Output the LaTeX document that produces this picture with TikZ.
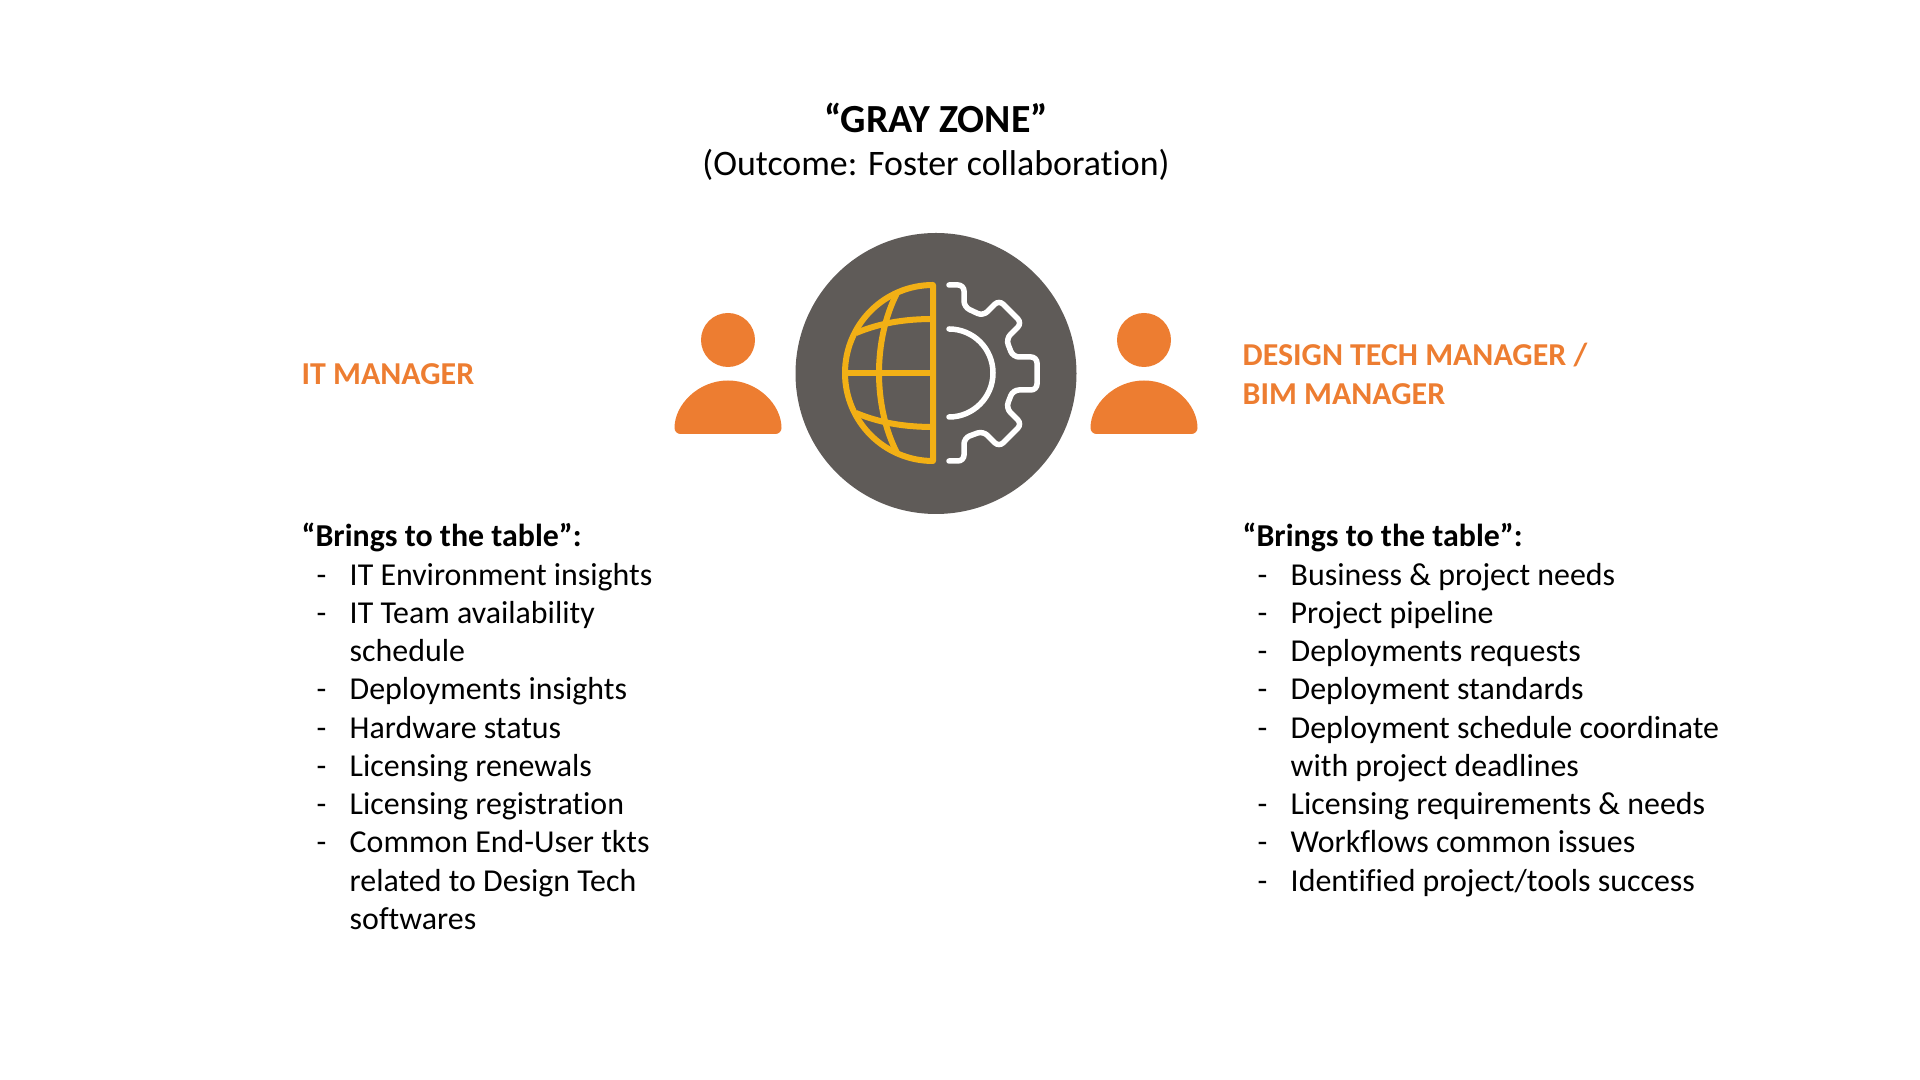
\documentclass[tikz,border=0pt]{standalone}
\usepackage{fontspec}
\setmainfont{Carlito}[Ligatures=CommonOff]
\usepackage{array}
\usetikzlibrary{positioning}
\definecolor{orangeman}{HTML}{ED7D31}
\definecolor{hubgray}{HTML}{5F5B58}
\definecolor{globegold}{HTML}{F2B015}
\tikzset{
  bodytext/.style={inner sep=0pt, align=left, font=\fontsize{9.07}{10.88}\selectfont},
  headtext/.style={bodytext, font=\fontsize{9.07}{10.88}\selectfont\bfseries},
  roletext/.style={headtext, text=orangeman},
  globeline/.style={draw=globegold, line width=0.6mm, line join=round},
  gearline/.style={draw=white, line width=0.55mm, line cap=round}
}
\begin{document}
\begin{tikzpicture}[x=0.01cm, y=-0.01cm, >=stealth]
  \useasboundingbox (0,0) rectangle (1920,1080);

  %--- Title
  \node[inner sep=0pt, font=\fontsize{11.34}{13.6}\selectfont\bfseries] (title) at (936,118) {“GRAY ZONE”};
  \node[inner sep=0pt, font=\fontsize{10.2}{12.24}\selectfont] (outcome) at (936,165) {(Outcome: Foster collaboration)};

  %--- Center circle
  \fill[hubgray] (936,373.5) circle[radius=140.5];

  %--- Globe half
  \draw[globeline] (933,285) arc[start angle=270, end angle=90, radius=88] -- cycle;
  \draw[globeline] (845,373) -- (933,373);
  \draw[globeline] (897,293) .. controls (873,340) and (873,406) .. (897,453);
  \draw[globeline] (856,333) .. controls (880,323) and (905,319) .. (933,319);
  \draw[globeline] (856,413) .. controls (880,423) and (905,427) .. (933,427);

  %--- Gear half
  \draw[gearline, rounded corners=0.6mm] (949,285) -- (964,285) -- (964,307) -- (983,316)
    -- (999,300) -- (1022,323) -- (1006,339) -- (1013,357) -- (1037,357) -- (1037,390)
    -- (1013,390) -- (1006,408) -- (1022,424) -- (999,447) -- (983,431) -- (964,438)
    -- (964,461) -- (949,461);
  \draw[gearline] (949,329) arc[start angle=-90, end angle=90, radius=44];

  %--- Both managers
  \foreach \px in {728,1144} {
    \fill[orangeman] (\px,340) circle[radius=27];
    \fill[orangeman, rounded corners=0.6mm] (\px-53.5,434) arc[start angle=180, end angle=360, radius=53.5] -- cycle;
  }

  %--- Left column
  \node[roletext, anchor=west] (itman) at (301,374) {IT MANAGER};
  \node[headtext, anchor=base west] (leftbrings) at (301,546.5) {“Brings to the table”:};
  \node[bodytext, below right=0.05cm and 0.15cm of leftbrings.south west] (leftlist) {%
    \begin{tabular}{@{}p{0.33cm}@{}l@{}}
      - & IT Environment insights \\
      - & IT Team availability \\
        & schedule \\
      - & Deployments insights \\
      - & Hardware status \\
      - & Licensing renewals \\
      - & Licensing registration \\
      - & Common End-User tkts \\
        & related to Design Tech \\
        & softwares \\
    \end{tabular}};

  %--- Right column
  \node[roletext, anchor=west] (bimman) at (1242,374) {DESIGN TECH MANAGER /\\BIM MANAGER};
  \node[headtext, anchor=base west] (rightbrings) at (1242,546.5) {“Brings to the table”:};
  \node[bodytext, below right=0.05cm and 0.15cm of rightbrings.south west] (rightlist) {%
    \begin{tabular}{@{}p{0.33cm}@{}l@{}}
      - & Business \& project needs \\
      - & Project pipeline \\
      - & Deployments requests \\
      - & Deployment standards \\
      - & Deployment schedule coordinate \\
        & with project deadlines \\
      - & Licensing requirements \& needs \\
      - & Workflows common issues \\
      - & Identified project/tools success \\
    \end{tabular}};
\end{tikzpicture}
\end{document}
